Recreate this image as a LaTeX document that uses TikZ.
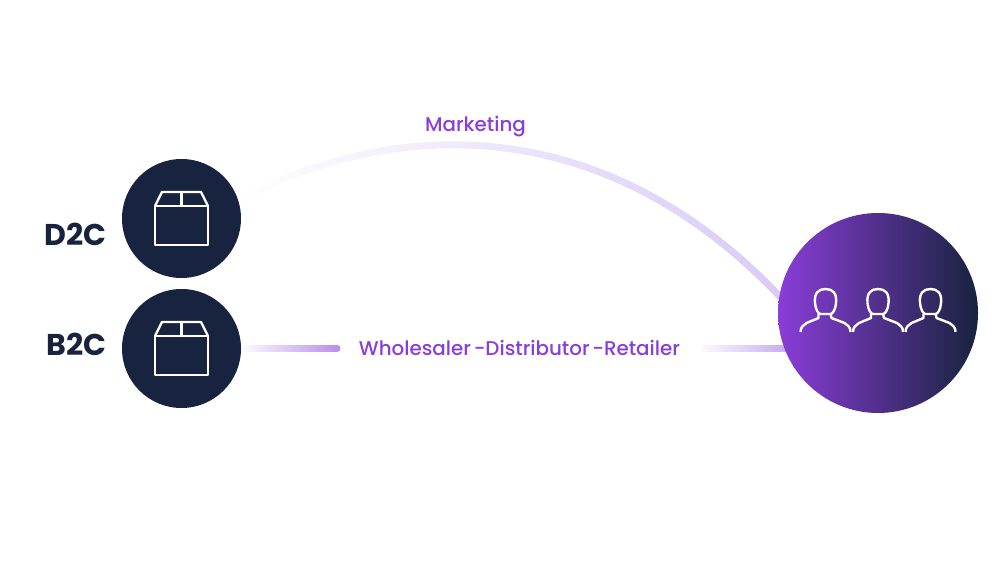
\documentclass[tikz,border=0pt]{standalone}
\usepackage{fontspec}
\setmainfont{Poppins}
\newfontfamily\medfont{Poppins Medium}
\usetikzlibrary{fadings}
\usetikzlibrary{backgrounds}
\usetikzlibrary{positioning}
\definecolor{navy}{HTML}{18233F}
\definecolor{violet}{HTML}{8A3DD8}
\definecolor{barend}{HTML}{B98CE8}
\definecolor{barstart}{HTML}{BFA0EC}
\definecolor{arcend}{HTML}{D9CAF6}
\newcommand{\routefont}{\medfont\fontsize{5.65pt}{7pt}\selectfont\spaceskip=0.14em\relax}
\tikzfading[name=fadein, left color=transparent!100, right color=transparent!0]
\tikzset{round/.style = {circle, fill=navy, minimum size=1.19cm, inner sep=0}}
\tikzset{stub/.style = {line width=0.07cm, line cap=round}}
\tikzset{icon/.style = {white, line width=0.024cm, line join=round}}
\tikzset{channel/.style = {font=\fontsize{8.55pt}{10pt}\bfseries, text=navy, inner sep=0, anchor=east}}
\tikzset{route/.style = {font=\routefont, text=violet, inner sep=0}}

\begin{document}
\begin{tikzpicture}
      \useasboundingbox (0, 0) rectangle (10, 5.6);
      \node [round] (d2c) at (1.815, 3.415) {};
      \node [round] (b2c) at (1.815, 2.115) {};
      \node [circle, minimum size=2cm, inner sep=0, left color=violet, right color=navy] (crowd) at (8.78, 2.47) {};

      \node [channel] (d2clabel) at (1.07, 3.255) {D2C};
      \node [channel] (b2clabel) at (1.07, 2.155) {B2C};
      \node [route] (marketing) at (4.755, 4.33) {Marketing};
      \node [route] (whole) at (5.195, 2.12) {Wholesaler -Distributor -Retailer};

      \coordinate (b2cstop) at (3.37, 2.12);
      \coordinate (crowdstart) at (7, 2.12);

      \begin{pgfonlayer}{background}
        \draw [arcend, line width=0.07cm, path fading=fadein] (d2c.18) .. controls (3.9, 4.4) and (6, 4.52) .. (crowd.170) -- +(0.06, -0.06);
        \draw [barend, stub, path fading=fadein] (b2c.east |- b2cstop) -- (b2cstop);
        \draw [barstart, line width=0.07cm, path fading=fadein] (crowdstart) -- (crowd.215 |- crowdstart);
      \end{pgfonlayer}

      % boxes
      \foreach \where in {d2c, b2c} {
        \draw [icon, shift={(\where)}] (-0.265, -0.265) rectangle (0.265, 0.125);
        \draw [icon, shift={(\where)}] (-0.265, 0.125) -- (-0.195, 0.265) -- (0.195, 0.265) -- (0.265, 0.125);
        \draw [icon, shift={(\where)}] (0, 0.125) -- (0, 0.265);
      }

      % people
      \foreach \off in {-0.525, 0, 0.525} {
        \begin{scope} [icon, shift={(crowd)}, xshift=\off cm]
          \draw (-0.105, 0.1) .. controls (-0.115, 0.2) and (-0.07, 0.24) .. (0, 0.24)
            .. controls (0.07, 0.24) and (0.115, 0.2) .. (0.105, 0.1)
            .. controls (0.1, 0.03) and (0.07, -0.01) .. (0.05, -0.01)
            -- (-0.05, -0.01) .. controls (-0.07, -0.01) and (-0.1, 0.03) .. (-0.105, 0.1);
          \draw (-0.25, -0.19) .. controls (-0.25, -0.14) and (-0.22, -0.12) .. (-0.19, -0.1) -- (-0.07, -0.05) -- (-0.07, -0.01);
          \draw (0.25, -0.19) .. controls (0.25, -0.14) and (0.22, -0.12) .. (0.19, -0.1) -- (0.06, -0.05) -- (0.05, -0.01);
        \end{scope}
      }
    \end{tikzpicture}
\end{document}
